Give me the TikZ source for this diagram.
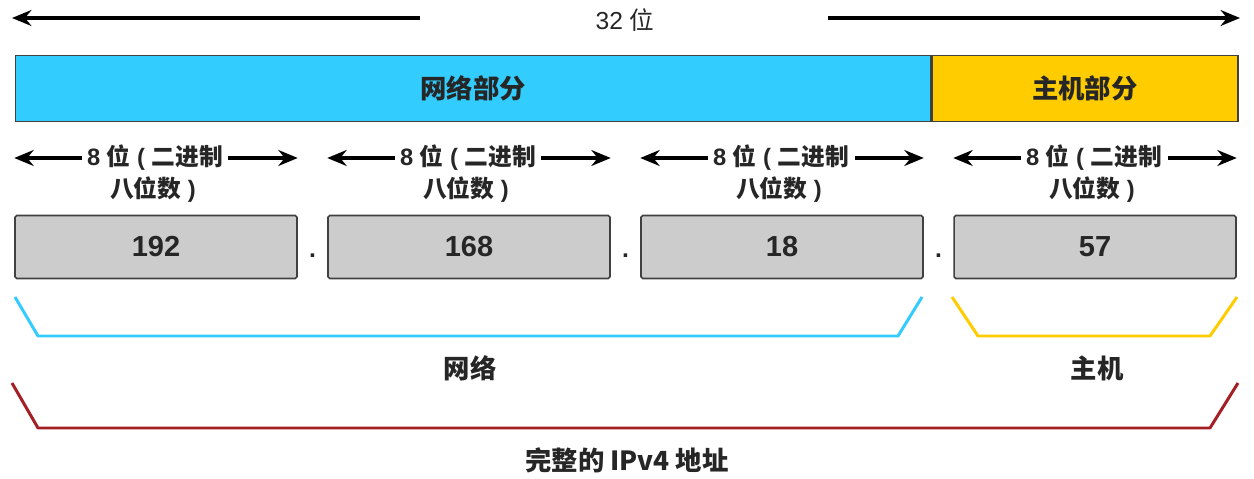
\documentclass[tikz,border=0pt]{standalone}
\usepackage{fontspec}
\setmainfont{Liberation Sans}
\newfontfamily\cjk{Noto Sans CJK SC}
\usepackage{xcolor}
\usetikzlibrary{calc,arrows.meta,positioning}
\definecolor{NetBlue}{RGB}{51, 204, 255}
\definecolor{HostYellow}{RGB}{255, 204, 0}
\definecolor{OctetGray}{RGB}{204, 204, 204}
\definecolor{FullRed}{RGB}{163, 31, 36}
\definecolor{InkGray}{RGB}{38, 38, 38}

\begin{document}
\begin{tikzpicture}[x=0.02cm, y=-0.02cm,
    txt/.style={text=InkGray, inner sep=0pt},
    lbl/.style={txt, font=\bfseries\fontsize{13.5}{16}\selectfont},
    bigtxt/.style={txt, font=\cjk\bfseries\fontsize{15}{18}\selectfont},
    bar/.style={draw=black!75, line width=0.8pt, minimum height=1.32cm, inner sep=0pt, bigtxt},
    octet/.style={draw=black!75, fill=OctetGray, line width=0.9pt, rounded corners=1pt,
        minimum width=5.64cm, minimum height=1.26cm, txt, font=\bfseries\fontsize{16.5}{19}\selectfont},
    span/.style={-{Stealth[length=11pt, width=9pt]}, line width=1.8pt},
    brk/.style={line width=1.7pt, line join=round}]
    \useasboundingbox (0,0) rectangle (1254,479);
    \node[txt, font=\fontsize{14}{17}\selectfont] (bits) at (625,20) {32 {\cjk 位}};
    \coordinate (lstart) at (420,18);
    \coordinate (lend) at (12,18);
    \coordinate (rstart) at (828,18);
    \coordinate (rend) at (1240,18);
    \draw[span] (lstart) -- (lend);
    \draw[span] (rstart) -- (rend);
    \node[bar, fill=NetBlue, minimum width=18.3cm, anchor=north west] (net) at (15,55) {网络部分};
    \node[bar, fill=HostYellow, minimum width=6.12cm, anchor=west] (host) at (net.east) {主机部分};
    \foreach \v [count=\i] in {192,168,18,57} {
        \node[octet] (o\i) at ({156+(\i-1)*313},247) {\v};
        \node[lbl] (w\i) at ({155+(\i-1)*313},158) {8 {\cjk 位} ( {\cjk 二进制}};
        \node[lbl] (n\i) at ({153+(\i-1)*313},190) {{\cjk 八位数} )};
        \draw[span] ([xshift=-3pt]w\i.west) -- (o\i.west |- w\i.west);
        \draw[span] ([xshift=3pt]w\i.east) -- (o\i.east |- w\i.east);
    }
    \foreach \i/\j in {1/2,2/3,3/4} {
        \node[txt, anchor=base, font=\bfseries\fontsize{14}{17}\selectfont] (d\i)
            at ($(o\i.east)!0.5!(o\j.west) + (0,11)$) {.};
    }
    \draw[brk, NetBlue] (15,297) -- (38,336) -- (898,336) -- (922,297);
    \draw[brk, HostYellow] (952,297) -- (978,336) -- (1210,336) -- (1237,297);
    \node[bigtxt] (netlbl) at (470,368) {网络};
    \node[bigtxt] (hostlbl) at (1097,368) {主机};
    \draw[brk, FullRed] (12,383) -- (38,428) -- (1210,428) -- (1238,383);
    \node[bigtxt] (full) at (627,460) {完整的 IPv4 地址};
\end{tikzpicture}
\end{document}
